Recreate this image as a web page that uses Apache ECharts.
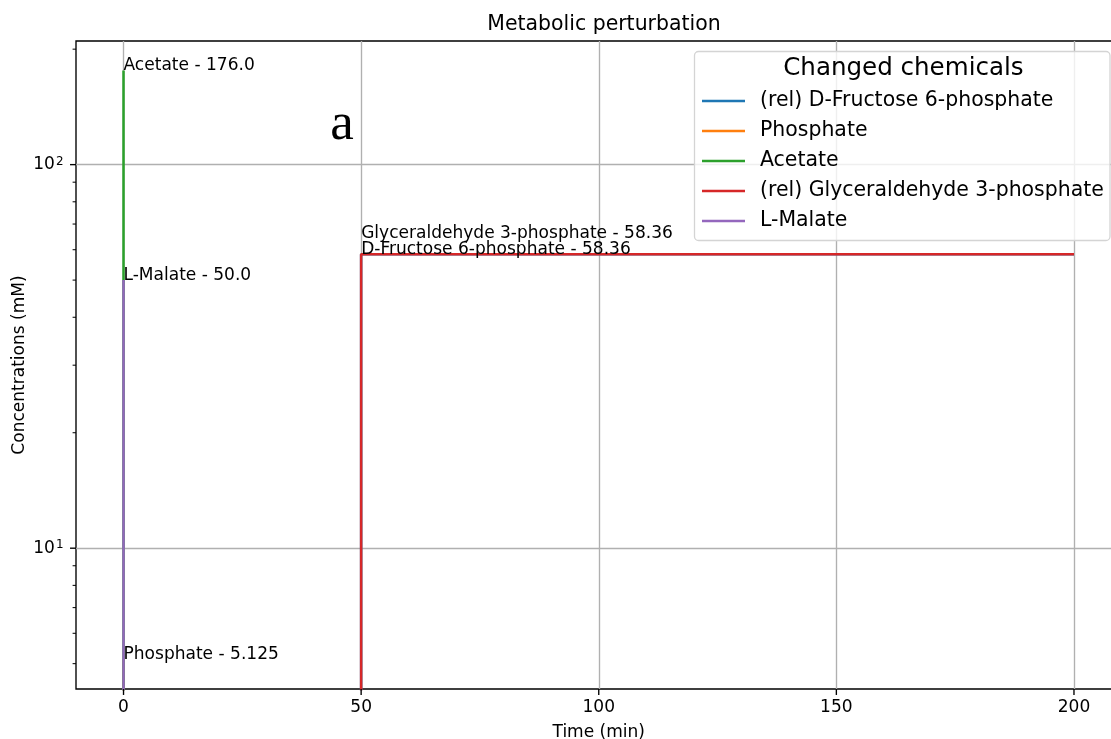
<!DOCTYPE html>
<html>
<head>
<meta charset="utf-8">
<script src="https://cdn.jsdelivr.net/npm/echarts@6/dist/echarts.min.js"></script>
<style>
  html, body { margin: 0; padding: 0; background: #fff; }
  #chart { width: 1111px; height: 739px; }
</style>
</head>
<body>
<div id="chart"></div>
<script>
// Time instants (min); a repeated instant holds the value just before and just after a change.
const times = [0, 0, 50, 50, 200];

// Concentrations (mM) of each changed chemical at those instants.
const fructose6P       = [0, 0, 0, 58.36, 58.36];
const phosphate        = [5.125, 0, 0, 0, 0];
const acetate          = [176, 0, 0, 0, 0];
const glyceraldehyde3P = [0, 0, 0, 58.36, 58.36];
const lMalate          = [50, 0, 0, 0, 0];

const legendNames = [
  '(rel) D-Fructose 6-phosphate',
  'Phosphate',
  'Acetate',
  '(rel) Glyceraldehyde 3-phosphate',
  'L-Malate'
];
const labelNames = [
  'D-Fructose 6-phosphate',
  'Phosphate',
  'Acetate',
  'Glyceraldehyde 3-phosphate',
  'L-Malate'
];
const seriesValues = [fructose6P, phosphate, acetate, glyceraldehyde3P, lMalate];

const xTicks = [0, 50, 100, 150, 200];
const yTicks = [10, 100];
const yMinorTicks = [5, 6, 7, 8, 9, 20, 30, 40, 50, 60, 70, 80, 90, 200];

const colors = ['#1f77b4', '#ff7f0e', '#2ca02c', '#d62728', '#9467bd'];
const FONT = '"DejaVu Sans", sans-serif';
const PT = 1.705; // px per pt

// Axis limits with a 5% margin around the data (log margin on y).
const tMin = Math.min(...times), tMax = Math.max(...times);
const xPad = 0.05 * (tMax - tMin);
const positives = seriesValues.flat().filter(v => v > 0);
const lo = Math.log10(Math.min(...positives)), hi = Math.log10(Math.max(...positives));
const yPad = 0.05 * (hi - lo);
const xMin = tMin - xPad, xMax = tMax + xPad;
const yMin = Math.pow(10, lo - yPad), yMax = Math.pow(10, hi + yPad);

// Zero has no place on a log axis: push it far below the range and let the grid clip it.
const FLOOR = 1e-9;
const toPoints = vals => times.map((t, i) => [t, vals[i] > 0 ? vals[i] : FLOOR]);

// Python-style float text (176 -> "176.0").
const pyFloat = v => Number.isInteger(v) ? v.toFixed(1) : String(v);

// One annotation per chemical, at the instant where its value peaks.
const annotations = seriesValues.map((vals, k) => {
  let idx = 0;
  vals.forEach((v, i) => { if (v > vals[idx]) idx = i; });
  return [times[idx], vals[idx], k];
});

const lineSeries = legendNames.map((name, k) => ({
  name,
  type: 'line',
  data: toPoints(seriesValues[k]),
  showSymbol: false,
  symbol: 'none',
  clip: true,
  color: colors[k],
  lineStyle: { width: 1.5 * PT, color: colors[k] },
  z: 3 + k
}));

// Outward tick marks along the left or bottom frame edge.
const tickSeries = (axis, values, len, width) => ({
  type: 'custom',
  silent: true,
  clip: false,
  data: values.map(v => axis === 'y' ? [xMin, v] : [v, yMin]),
  renderItem: (params, api) => {
    const p = api.coord([api.value(0), api.value(1)]);
    const shape = axis === 'y'
      ? { x1: p[0] - len, y1: p[1], x2: p[0], y2: p[1] }
      : { x1: p[0], y1: p[1], x2: p[0], y2: p[1] + len };
    return { type: 'line', shape, style: { stroke: '#000', lineWidth: width } };
  },
  z: 20
});

const chart = echarts.init(document.getElementById('chart'), null, { renderer: 'canvas' });

chart.setOption({
  animation: false,
  backgroundColor: '#fff',
  title: {
    text: 'Metabolic perturbation',
    left: 599,
    textAlign: 'center',
    top: 10,
    textStyle: { fontFamily: FONT, fontSize: 12 * PT, fontWeight: 'normal', color: '#000' }
  },
  grid: {
    left: 76, top: 41, bottom: 50, right: -10.5,
    show: true, borderColor: '#000', borderWidth: 0.8 * PT,
    containLabel: false, outerBoundsMode: 'none'
  },
  xAxis: {
    type: 'value',
    min: xMin, max: xMax,
    name: 'Time (min)',
    nameLocation: 'middle',
    nameGap: 35,
    nameMoveOverlap: false,
    nameTextStyle: { fontFamily: FONT, fontSize: 10 * PT, color: '#000' },
    axisLine: { show: false, onZero: false },
    axisTick: { show: false, customValues: xTicks },
    axisLabel: { customValues: xTicks, margin: 10, fontFamily: FONT, fontSize: 10 * PT, color: '#000' },
    splitLine: { show: true, lineStyle: { color: '#b0b0b0', width: 0.8 * PT } }
  },
  yAxis: {
    type: 'log',
    logBase: 10,
    min: yMin, max: yMax,
    name: 'Concentrations (mM)',
    nameLocation: 'middle',
    nameGap: 48,
    nameMoveOverlap: false,
    nameTextStyle: { fontFamily: FONT, fontSize: 10 * PT, color: '#000' },
    axisLine: { show: false, onZero: false },
    axisTick: { show: false, customValues: yTicks },
    axisLabel: {
      customValues: yTicks,
      margin: 12.5,
      formatter: v => '{b|10}{s|' + Math.round(Math.log10(v)) + '}',
      rich: {
        b: { fontFamily: FONT, fontSize: 10 * PT, color: '#000' },
        s: { fontFamily: FONT, fontSize: 7 * PT, color: '#000', verticalAlign: 'top', padding: [0, 0, 6, 1] }
      }
    },
    splitLine: { show: true, lineStyle: { color: '#b0b0b0', width: 0.8 * PT } },
    minorTick: { show: false }
  },
  legend: {
    data: legendNames,
    orient: 'vertical',
    left: 702,
    top: 91,
    padding: 0,
    icon: 'rect',
    itemWidth: 43,
    itemHeight: 1.5 * PT,
    itemGap: 10,
    z: 12,
    textStyle: { fontFamily: FONT, fontSize: 12 * PT, color: '#000', lineHeight: 20, padding: [0, 0, 0, 10] }
  },
  graphic: [
    {
      type: 'rect',
      z: 10,
      shape: { x: 694.5, y: 51.5, width: 415.5, height: 189, r: 4 },
      style: { fill: 'rgba(255,255,255,0.8)', stroke: '#d4d4d4', lineWidth: 1.3 }
    },
    {
      type: 'text',
      z: 11,
      style: {
        text: 'Changed chemicals', x: 903.4, y: 69,
        font: (14.4 * PT) + 'px ' + FONT, fill: '#000', textAlign: 'center', verticalAlign: 'middle'
      }
    },
    {
      type: 'text',
      z: 11,
      style: {
        text: 'a', x: 342, y: 125,
        font: '53px "Liberation Serif", serif', fill: '#000', textAlign: 'center', verticalAlign: 'middle'
      }
    }
  ],
  series: [
    ...lineSeries,
    tickSeries('x', xTicks, 3.5 * PT, 0.8 * PT),
    tickSeries('y', yTicks, 3.5 * PT, 0.8 * PT),
    tickSeries('y', yMinorTicks, 2 * PT, 0.6 * PT),
    {
      // value annotations next to each chemical's peak
      type: 'custom',
      silent: true,
      clip: false,
      data: annotations,
      renderItem: (params, api) => {
        const k = api.value(2);
        const p = api.coord([api.value(0), api.value(1)]);
        const shift = labelNames[k].startsWith('Glyceraldehyde') ? -16 : 0;
        return {
          type: 'text',
          x: p[0],
          y: p[1] + 4 + shift,
          style: {
            text: labelNames[k] + ' - ' + pyFloat(api.value(1)),
            font: (10 * PT) + 'px ' + FONT,
            fill: '#000',
            textAlign: 'left',
            verticalAlign: 'bottom'
          }
        };
      },
      z: 15
    }
  ]
});
</script>
</body>
</html>
